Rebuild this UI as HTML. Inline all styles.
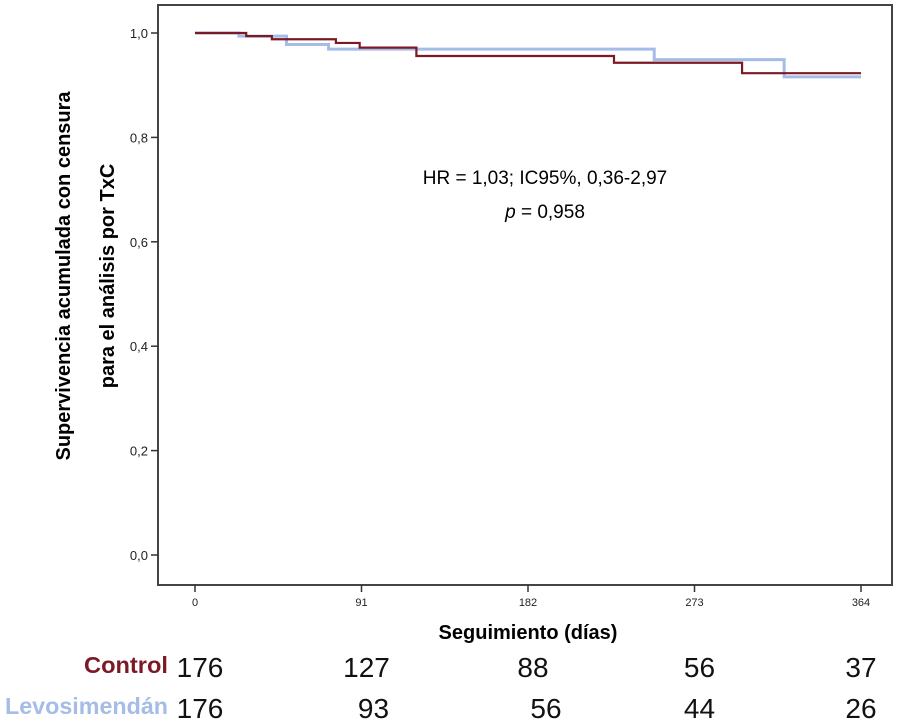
<!DOCTYPE html>
<html><head><meta charset="utf-8"><style>
body{margin:0;background:#fff;width:905px;height:722px;overflow:hidden}
svg{display:block}
.n{font-family:"Liberation Sans Narrow","Liberation Sans",sans-serif;font-size:28px;fill:#111}
</style></head><body>
<svg id="chart" width="905" height="722">
<rect x="158" y="5" width="734" height="580" fill="#fff" stroke="#444" stroke-width="2"/>
<g id="yaxis"></g>
<g id="xaxis"></g>
<g id="series"></g>
<text x="0" y="0" transform="translate(70,276) rotate(-90)" text-anchor="middle" font-family="Liberation Sans,sans-serif" font-weight="bold" font-size="20">Supervivencia acumulada con censura</text>
<text x="0" y="0" transform="translate(114,276) rotate(-90)" text-anchor="middle" font-family="Liberation Sans,sans-serif" font-weight="bold" font-size="20">para el análisis por TxC</text>
<text x="528" y="639" text-anchor="middle" font-family="Liberation Sans,sans-serif" font-weight="bold" font-size="20">Seguimiento (días)</text>
<text x="545" y="184" text-anchor="middle" font-family="Liberation Sans,sans-serif" font-size="19">HR = 1,03; IC95%, 0,36-2,97</text>
<text x="545" y="218" text-anchor="middle" font-family="Liberation Sans,sans-serif" font-size="19"><tspan font-style="italic">p</tspan> = 0,958</text>
<text x="168" y="673" text-anchor="end" font-family="Liberation Sans,sans-serif" font-weight="bold" font-size="23" fill="#7b1a24" textLength="84" lengthAdjust="spacingAndGlyphs">Control</text>
<text x="168" y="714" text-anchor="end" font-family="Liberation Sans,sans-serif" font-weight="bold" font-size="23" fill="#a5bde6" textLength="163" lengthAdjust="spacingAndGlyphs">Levosimendán</text>
<g id="risk"></g>
</svg>
<script>
const xTicks=[0,91,182,273,364];
const yTicks=[0,0.2,0.4,0.6,0.8,1.0];
const controlTimes=[0,28,42,77,90,121,229,299,364];
const controlSurv=[1.0,0.994,0.988,0.981,0.972,0.956,0.943,0.923,0.923];
const levoTimes=[0,24,50,73,251,322,364];
const levoSurv=[1.0,0.994,0.978,0.969,0.949,0.916,0.916];
const riskControl=[176,127,88,56,37];
const riskLevo=[176,93,56,44,26];
const NS="http://www.w3.org/2000/svg";
function xs(d){return 195+d*(666/364);}
function ys(v){return 555-v*522;}
function mk(t,a,p){const e=document.createElementNS(NS,t);for(const k in a)e.setAttribute(k,a[k]);p.appendChild(e);return e;}
const ya=document.getElementById('yaxis');
yTicks.forEach(v=>{
 const l=mk('line',{x1:151,x2:158,y1:ys(v),y2:ys(v),stroke:'#333','stroke-width':1.5},ya);
 
 
 const t=mk('text',{x:148,y:ys(v)+5,'text-anchor':'end','font-family':'Liberation Sans,sans-serif','font-size':13,fill:'#222'},ya);
 t.textContent=v.toFixed(1).replace('.',',');
 
 
});
const xa=document.getElementById('xaxis');
xTicks.forEach(d=>{
 const l=mk('line',{x1:xs(d),x2:xs(d),y1:585,y2:592,stroke:'#333','stroke-width':1.5},xa);
 
 
 const t=mk('text',{x:xs(d),y:606,'text-anchor':'middle','font-family':'Liberation Sans Narrow,Liberation Sans,sans-serif','font-size':11,fill:'#222'},xa);
 t.textContent=d;
 
 
});
function stepPath(ts,ss){let d='M'+xs(ts[0])+','+ys(ss[0]);for(let i=1;i<ts.length;i++){d+=' H'+xs(ts[i])+' V'+ys(ss[i]);}return d;}
const sg=document.getElementById('series');
const pb=mk('path',{d:stepPath(levoTimes,levoSurv),fill:'none',stroke:'#a5bde6','stroke-width':3},sg);


const pr=mk('path',{d:stepPath(controlTimes,controlSurv),fill:'none',stroke:'#7b1a24','stroke-width':2.2},sg);


const rg=document.getElementById('risk');
const offC=[5,5,5,5,0],offL=[5,12,18,5,0];
xTicks.forEach((d,i)=>{
 const a=mk('text',{x:xs(d)+offC[i],y:677,'text-anchor':'middle',class:'n'},rg);
 a.textContent=riskControl[i];
 
 
 const b=mk('text',{x:xs(d)+offL[i],y:718,'text-anchor':'middle',class:'n'},rg);
 b.textContent=riskLevo[i];
 
 
});
</script>
</body></html>
